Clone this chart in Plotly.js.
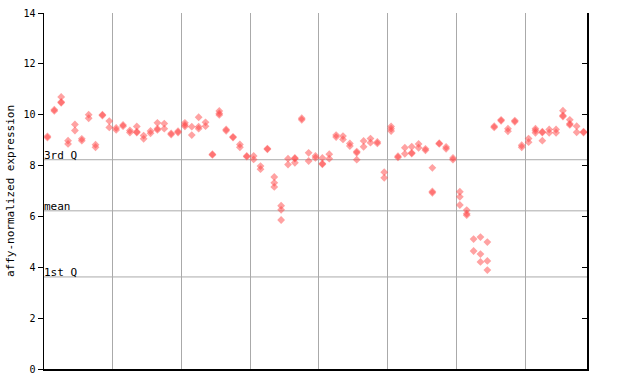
<!DOCTYPE html>
<html>
<head>
<meta charset="utf-8">
<script src="https://cdn.plot.ly/plotly-3.0.1.min.js"></script>
<style>html,body{margin:0;padding:0;background:#fff;}#chart{width:640px;height:384px;}</style>
</head>
<body>
<div id="chart"></div>
<script>
// Expression values per sample (each inner list = replicate points of one sample), grouped by panel column
const group1 = [[9.1,9.15],[10.15,10.2],[10.7,10.5,10.47],[8.98,8.85],[9.62,9.38],[9.05,8.98],[10.0,9.86],[8.82,8.72],[10.0,9.97],[9.75,9.5]];
const group2 = [[9.48,9.4],[9.6,9.55],[9.38,9.3],[9.54,9.33,9.3],[9.18,9.05],[9.36,9.27],[9.68,9.45,9.4],[9.65,9.45],[9.27,9.22],[9.35,9.3]];
const group3 = [[9.68,9.6,9.54],[9.53,9.2],[9.9,9.53,9.45],[9.7,9.55],[8.45,8.42],[10.15,10.05,9.99],[9.42,9.37],[9.13,9.1],[8.83,8.72],[8.38,8.35]];
const group4 = [[8.38,8.24],[7.98,7.86],[8.67,8.64],[7.55,7.32,7.16],[6.42,6.26,5.86],[8.27,8.04],[8.3,8.27,8.11],[9.86,9.8],[8.5,8.18],[8.38,8.3]];
const group5 = [[8.3,8.08,8.05],[8.45,8.27],[9.2,9.12],[9.16,9.03],[8.87,8.77],[8.55,8.5,8.23],[8.97,8.74],[9.06,8.9],[8.93,8.87],[7.74,7.52]];
const group6 = [[9.54,9.45,9.36],[8.37,8.32],[8.7,8.46],[8.74,8.5,8.47],[8.85,8.7],[8.66,8.6],[7.91,6.98,6.93],[8.88,8.85],[8.73,8.66],[8.3,8.23]];
const group7 = [[6.97,6.77,6.45],[6.25,6.11,6.05],[5.11,4.64],[5.19,4.52,4.21],[4.99,4.25,3.89],[9.55,9.5],[9.8,9.76],[9.45,9.35],[9.77,9.72],[8.8,8.72]];
const group8 = [[9.06,8.92],[9.45,9.38,9.29],[9.33,9.3,8.98],[9.42,9.29],[9.42,9.29],[10.16,9.97,9.93],[9.8,9.64,9.6],[9.55,9.31],[9.33,9.3]];

// Reference lines
const refLabels = ["1st Q", "mean", "3rd Q"];
const refValues = [3.62, 6.22, 8.23];

// Y axis ticks
const yTicks = [0, 2, 4, 6, 8, 10, 12, 14];
const yTitle = "affy-normalized expression";

const samples = [].concat(group1, group2, group3, group4, group5, group6, group7, group8);
const xs = [], ys = [];
samples.forEach((vals, i) => vals.forEach(v => { xs.push(i); ys.push(v); }));
const nSamples = samples.length;
const groupBounds = [];
for (let b = 10; b < nSamples; b += 10) groupBounds.push(b - 0.5);

const mono = "DejaVu Sans Mono, monospace";

const traces = [
  {
    x: xs, y: ys, type: "scatter", mode: "markers",
    marker: { symbol: "diamond", size: 6, color: "rgba(255,70,70,0.5)", line: { width: 0 } },
    hoverinfo: "y", showlegend: false
  },
  { x: [0], y: [0], yaxis: "y2", type: "scatter", mode: "markers", marker: { opacity: 0 }, showlegend: false, hoverinfo: "skip" }
];

const shapes = refValues.map(v => ({
  type: "line", xref: "paper", x0: 0, x1: 1, yref: "y", y0: v, y1: v,
  line: { color: "#aaaaaa", width: 1 }, layer: "below"
}));

const annotations = refValues.map((v, k) => ({
  xref: "paper", x: 0, xanchor: "left", yref: "y", y: v, yanchor: "bottom",
  text: refLabels[k], showarrow: false, font: { family: mono, size: 11, color: "#000" },
  borderpad: 0, xshift: -1, yshift: -3
}));

const layout = {
  width: 640, height: 384,
  margin: { l: 44, r: 53, t: 13, b: 15 },
  paper_bgcolor: "#fff", plot_bgcolor: "#fff",
  showlegend: false,
  xaxis: {
    range: [-0.5, nSamples - 0.5],
    tickvals: groupBounds, showticklabels: false, ticks: "",
    showgrid: true, gridcolor: "#aaaaaa", gridwidth: 1,
    zeroline: false, showline: true, linecolor: "#000", linewidth: 1.5
  },
  yaxis: {
    range: [0, 14], tickvals: yTicks, ticktext: yTicks.map(String),
    ticks: "outside", ticklen: 5, tickcolor: "#000", tickwidth: 1,
    showgrid: false, zeroline: false, showline: true, linecolor: "#000", linewidth: 1.5,
    tickfont: { family: mono, size: 10, color: "#000" },
    title: { text: yTitle, font: { family: mono, size: 11, color: "#000" }, standoff: 6 }
  },
  yaxis2: {
    range: [0, 14], overlaying: "y", side: "right", tickvals: yTicks,
    ticks: "inside", ticklen: 5, tickcolor: "#000", showticklabels: false,
    showgrid: false, zeroline: false, showline: true, linecolor: "#000", linewidth: 1.5
  },
  shapes: shapes,
  annotations: annotations
};

Plotly.newPlot("chart", traces, layout, { displayModeBar: false, staticPlot: true });
</script>
</body>
</html>
